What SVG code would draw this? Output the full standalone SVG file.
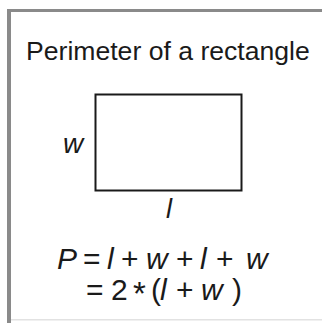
<svg xmlns="http://www.w3.org/2000/svg" width="322" height="323" viewBox="0 0 322 323">
<style>
.t{font-family:"Liberation Sans",Arial,Helvetica,sans-serif;fill:#1a1a1a}
.v{font-style:italic}
</style>
<rect width="322" height="323" fill="#fff"/>
<g id="frame">
<rect x="7" y="9" width="4" height="314" fill="#8a8a8a"/>
<rect x="7" y="9" width="315" height="3" fill="#8a8a8a"/>
<rect x="11" y="319" width="311" height="1.5" fill="#e2e2e2"/>
</g>
<g id="title"><text class="t" x="26" y="60" font-size="26.6">Perimeter of a rectangle</text></g>
<g id="rectangle"><rect x="95.5" y="94.5" width="146" height="96" fill="none" stroke="#1a1a1a" stroke-width="2"/></g>
<g id="label-w"><text class="t v" x="63" y="153" font-size="28">w</text></g>
<g id="label-l"><text class="t v" x="166" y="218" font-size="27">l</text></g>
<g id="formula" class="t" font-size="30">
<text y="269"><tspan class="v" x="57">P</tspan><tspan x="83">=</tspan><tspan class="v" x="107">l</tspan><tspan x="121">+</tspan><tspan class="v" x="146">w</tspan><tspan x="176">+</tspan><tspan class="v" x="200">l</tspan><tspan x="216">+</tspan><tspan class="v" x="246">w</tspan></text>
<text y="300"><tspan x="86">=</tspan><tspan x="111">2</tspan><tspan x="151">(</tspan><tspan class="v" x="160">l</tspan><tspan x="176">+</tspan><tspan class="v" x="201">w</tspan><tspan x="232">)</tspan></text>
<text x="133" y="305" font-size="33">*</text>
</g>
</svg>
